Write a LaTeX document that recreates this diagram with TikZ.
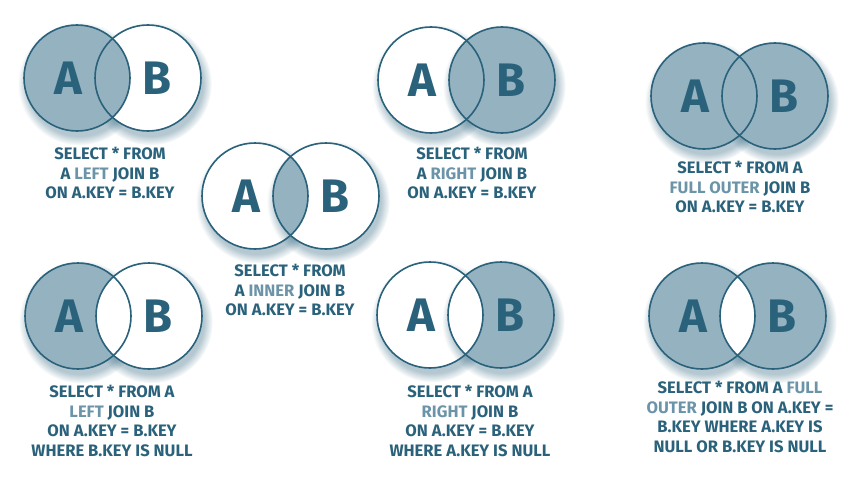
\documentclass[tikz,border=0pt]{standalone}
\usepackage{fontspec}
\setmainfont{Fira Sans}
\usetikzlibrary{shadows,fadings}
\definecolor{sqlink}{HTML}{2B627B}
\definecolor{sqlfill}{HTML}{94B2C0}
\definecolor{sqlkey}{HTML}{6B94A8}
\newcommand\kw[1]{\textcolor{sqlkey}{#1}}

\begin{document}
\begin{tikzpicture}[x=1pt,y=1pt,
  set/.style={circle,minimum size=106pt,inner sep=0pt,fill=white,
              circular drop shadow={shadow xshift=2pt,shadow yshift=-5pt,
              shadow scale=1.16,fill=sqlink,opacity=.35}},
  part/.style={fill=sqlfill},
  ring/.style={draw=sqlink,line width=1.6pt},
  letter/.style={font=\bfseries\fontsize{47}{47}\selectfont,text=sqlink},
  caption/.style={font=\bfseries\fontsize{16.6}{19.6}\selectfont,text=sqlink,align=center}
]
% page is 856 x 487, y runs downwards as negative
\path[use as bounding box] (0,0) rectangle (856,-487);

% circles (shadow + white ground)
\node[set] (tlA) at (77,-78) {};   \node[set] (tlB) at (148,-78) {};
\node[set] (trA) at (431,-80) {};  \node[set] (trB) at (502,-80) {};
\node[set] (foA) at (704,-96) {};  \node[set] (foB) at (775,-96) {};
\node[set] (inA) at (255,-196) {}; \node[set] (inB) at (326,-196) {};
\node[set] (blA) at (78,-316) {};  \node[set] (blB) at (149,-316) {};
\node[set] (bmA) at (430,-315) {}; \node[set] (bmB) at (501,-315) {};
\node[set] (brA) at (702,-316) {}; \node[set] (brB) at (773,-316) {};

% shaded parts
\fill[part] (tlA.center) circle[radius=53];
\fill[part] (trB.center) circle[radius=53];
\fill[part] (foA.center) circle[radius=53];
\fill[part] (foB.center) circle[radius=53];
\begin{scope}
  \clip (inA.center) circle[radius=53];
  \fill[part] (inB.center) circle[radius=53];
\end{scope}
\fill[part] (blA.center) circle[radius=53];
\begin{scope}
  \clip (blA.center) circle[radius=53];
  \fill[white] (blB.center) circle[radius=53];
\end{scope}
\fill[part] (bmB.center) circle[radius=53];
\begin{scope}
  \clip (bmB.center) circle[radius=53];
  \fill[white] (bmA.center) circle[radius=53];
\end{scope}
\fill[part] (brA.center) circle[radius=53];
\fill[part] (brB.center) circle[radius=53];
\begin{scope}
  \clip (brA.center) circle[radius=53];
  \fill[white] (brB.center) circle[radius=53];
\end{scope}

% outlines
\foreach \s in {tlA,tlB,trA,trB,foA,foB,inA,inB,blA,blB,bmA,bmB,brA,brB}
  \draw[ring] (\s.center) circle[radius=53];

% letters
\foreach \s in {tl,tr,fo,in,bl,bm,br}{
  \node[letter] (\s La) at ([xshift=-9pt]\s A.center) {A};
  \node[letter] (\s Lb) at ([xshift=9pt]\s B.center) {B};
}

% captions
\node[caption] (tlText) at (110,-173) {SELECT * FROM\\A \kw{LEFT} JOIN B\\ON A.KEY = B.KEY};
\node[caption] (trText) at (472,-173) {SELECT * FROM\\A \kw{RIGHT} JOIN B\\ON A.KEY = B.KEY};
\node[caption] (foText) at (740,-187) {SELECT * FROM A\\\kw{FULL OUTER} JOIN B\\ON A.KEY = B.KEY};
\node[caption] (inText) at (290,-290) {SELECT * FROM\\A \kw{INNER} JOIN B\\ON A.KEY = B.KEY};
\node[caption] (blText) at (112,-421) {SELECT * FROM A\\\kw{LEFT} JOIN B\\ON A.KEY = B.KEY\\WHERE B.KEY IS NULL};
\node[caption] (bmText) at (470,-421) {SELECT * FROM A\\\kw{RIGHT} JOIN B\\ON A.KEY = B.KEY\\WHERE A.KEY IS NULL};
\node[caption] (brText) at (740,-417) {SELECT * FROM A \kw{FULL}\\\kw{OUTER} JOIN B ON A.KEY =\\B.KEY WHERE A.KEY IS\\NULL OR B.KEY IS NULL};
\end{tikzpicture}
\end{document}
